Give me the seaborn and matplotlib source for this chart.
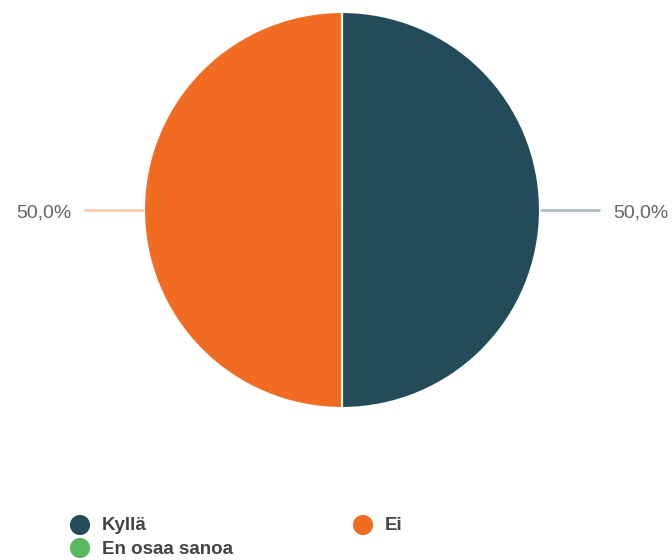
import numpy as np
import matplotlib
matplotlib.use("Agg")
import matplotlib.pyplot as plt
import seaborn as sns

categories = ["Kyllä", "Ei", "En osaa sanoa"]
shares = [50.0, 50.0, 0.0]
colors = sns.color_palette(["#234b5a", "#f26b22", "#5cb85c"])

sns.set_theme(style="white")
plt.rcParams["font.family"] = ["Liberation Sans", "DejaVu Sans"]

W, H = 672, 560
fig = plt.figure(figsize=(W / 100, H / 100), dpi=100)
ax = fig.add_axes([0, 0, 1, 1])

cx, cy, r = 342, 350, 198
wedges, _ = ax.pie(shares, colors=colors, startangle=90, counterclock=False,
                   center=(cx, cy), radius=r, frame=True,
                   wedgeprops=dict(edgecolor="white", linewidth=1.5))
ax.set_xlim(0, W)
ax.set_ylim(0, H)
ax.set_aspect("equal")
ax.axis("off")

# leader lines and percentage labels
for w, val, col in zip(wedges, shares, colors):
    if val <= 0:
        continue
    mid = np.deg2rad((w.theta1 + w.theta2) / 2)
    x0 = cx + r * np.cos(mid)
    y0 = cy + r * np.sin(mid)
    side = 1 if np.cos(mid) >= 0 else -1
    x1 = x0 + side * 60
    ax.plot([x0, x1], [y0, y0], color=col, alpha=0.35, lw=2,
            solid_capstyle="butt")
    label = f"{val:.1f}%".replace(".", ",")
    ax.text(x1 + side * 13, y0 - 3, label, ha="left" if side > 0 else "right",
            va="center", fontsize=14, color="#666666")

# legend: two columns, filled row by row
col_x = [80, 363]
row_y = [35, 12]
for i, (cat, col) in enumerate(zip(categories, colors)):
    gx = col_x[i % 2]
    gy = row_y[i // 2]
    ax.scatter([gx], [gy], s=210, color=col, edgecolor="none", zorder=3)
    ax.text(gx + 22, gy - 1, cat, ha="left", va="center", fontsize=13.5,
            fontweight="bold", color="#444444")

fig.savefig("out.png", dpi=100)
